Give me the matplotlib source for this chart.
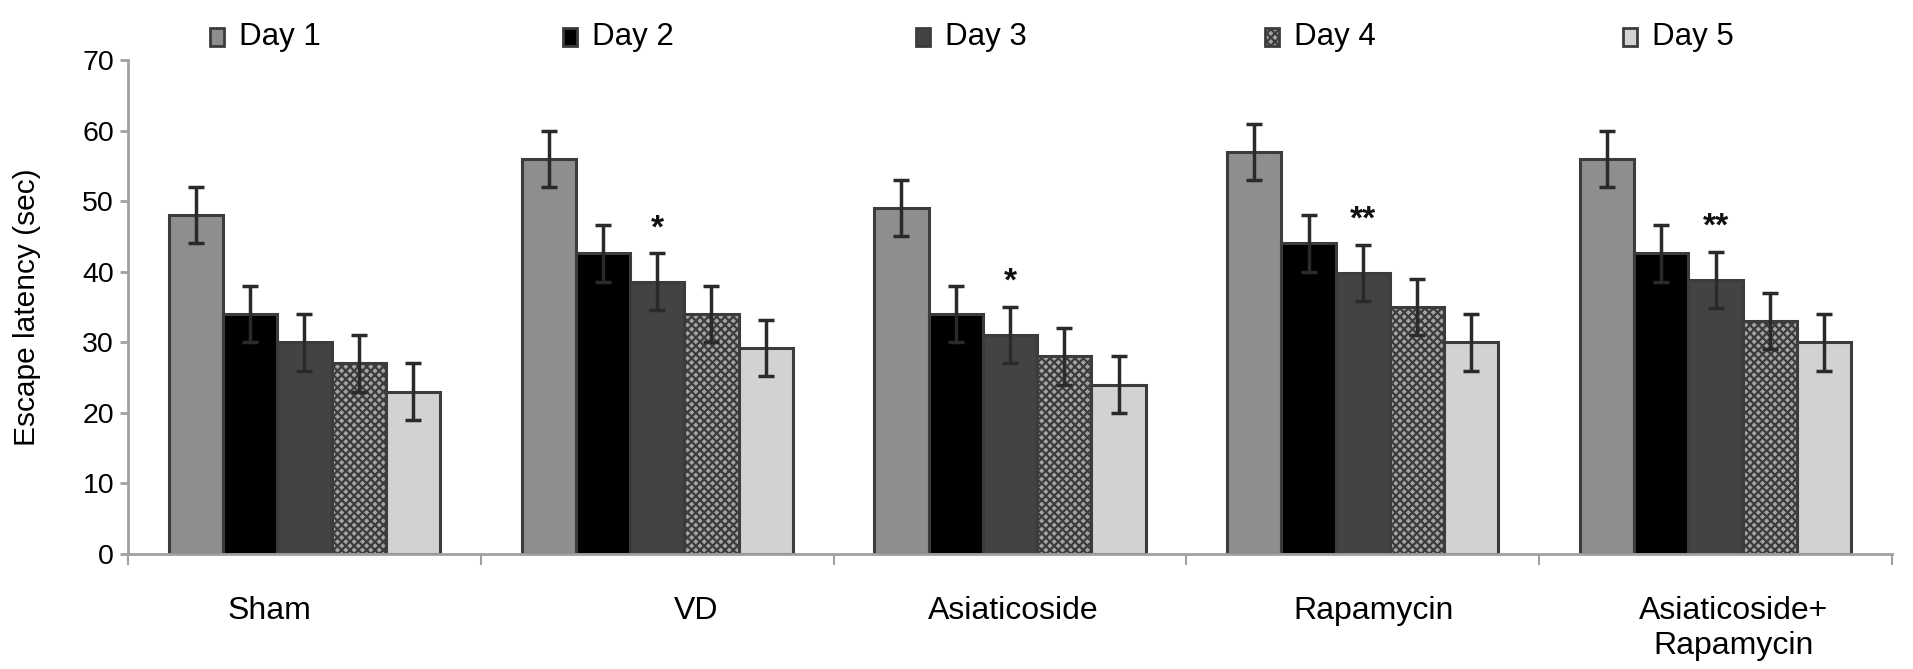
import matplotlib
matplotlib.use("Agg")
import matplotlib.pyplot as plt
from matplotlib.patches import Rectangle
import numpy as np

plt.rcParams['font.family'] = ['Liberation Sans', 'DejaVu Sans']
plt.rcParams['hatch.linewidth'] = 1.6

groups = ["Sham", "VD", "Asiaticoside", "Rapamycin", "Asiaticoside+\nRapamycin"]
days = ["Day 1", "Day 2", "Day 3", "Day 4", "Day 5"]
values = {
    "Day 1": [48, 56, 49, 57, 56],
    "Day 2": [34, 42.6, 34, 44, 42.6],
    "Day 3": [30, 38.6, 31, 39.8, 38.8],
    "Day 4": [27, 34, 28, 35, 33],
    "Day 5": [23, 29.2, 24, 30, 30],
}
errors = {
    "Day 1": [4, 4, 4, 4, 4],
    "Day 2": [4, 4, 4, 4, 4],
    "Day 3": [4, 4, 4, 4, 4],
    "Day 4": [4, 4, 4, 4, 4],
    "Day 5": [4, 4, 4, 4, 4],
}
stars = ["", "*", "*", "**", "**"]   # above Day 3
label_offsets = [-0.10, 0.11, 0.01, 0.03, 0.05]

facecolors = ["#8e8e8e", "#000000", "#434343", "#a4a4a4", "#d2d2d2"]
hatches = [None, None, None, "xxxx", None]
edge = "#3c3c3c"

fig = plt.figure(figsize=(19.13, 6.69), dpi=100)
ax = fig.add_axes([128/1913, 1-554/669, (1892-128)/1913, (554-60)/669])

n = len(groups)
w = 1/6.5
x = np.arange(n) + 0.5
for i, d in enumerate(days):
    xs = x + (i - 2) * w
    ax.bar(xs, values[d], width=w, color=facecolors[i], edgecolor=edge,
           linewidth=2.2, hatch=hatches[i], zorder=2)
    ax.errorbar(xs, values[d], yerr=errors[d], fmt='none', ecolor="#2a2a2a",
                elinewidth=2.5, capsize=5.5, capthick=2.5, zorder=3)

d3 = "Day 3"
for j, s in enumerate(stars):
    if s:
        ax.text(x[j], values[d3][j] + errors[d3][j] + 1.3, s, ha='center',
                va='bottom', fontsize=24, fontweight='bold', color='#111111')

ax.set_xlim(0, n)
ax.set_ylim(0, 70)
ax.set_yticks(range(0, 71, 10))
ax.set_xticks(np.arange(n + 1))
ax.set_xticklabels([])
for s in ['top', 'right']:
    ax.spines[s].set_visible(False)
for s in ['left', 'bottom']:
    ax.spines[s].set_color('#a0a0a0')
    ax.spines[s].set_linewidth(2)
ax.tick_params(axis='y', labelsize=20.5, length=6, width=2, color='#a0a0a0', pad=4)
ax.tick_params(axis='x', length=8, width=1.5, color='#a0a0a0')

for j, g in enumerate(groups):
    ax.text(x[j] + label_offsets[j], -6.0, g, ha='center', va='top',
            fontsize=23, linespacing=1.2, transform=ax.transData, clip_on=False)

ax.set_ylabel("Escape latency (sec)", fontsize=21.5, labelpad=30)

# legend along the top
leg_x = [217, 570, 923, 1272, 1630]
for i, d in enumerate(days):
    fx = leg_x[i] / 1913
    fy = 1 - 37/669
    fig.patches.append(Rectangle((fx - 7/1913, fy - 9/669), 14/1913, 18/669,
                                 transform=fig.transFigure, facecolor=facecolors[i],
                                 edgecolor=edge, linewidth=2, hatch=hatches[i]))
    fig.text(fx + 22/1913, fy, d, ha='left', va='center', fontsize=22.5)

fig.savefig("out.png", dpi=100)
